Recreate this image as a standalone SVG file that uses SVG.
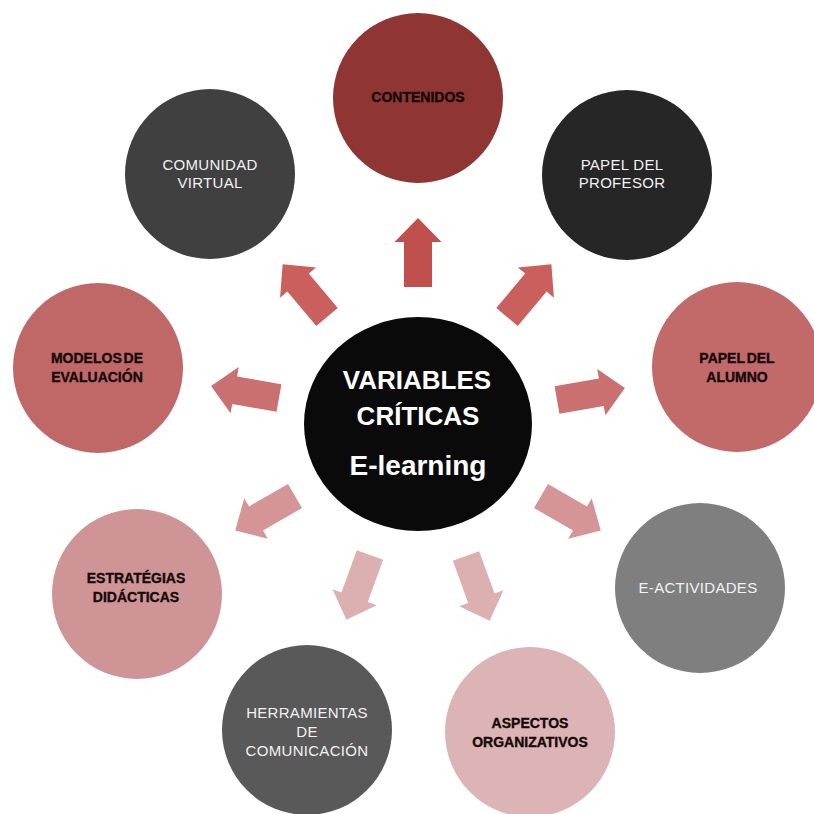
<svg xmlns="http://www.w3.org/2000/svg" width="814" height="814" viewBox="0 0 814 814">
  <defs>
    <!-- block arrow pointing along +x, tail centred on the origin -->
    <polygon id="blockArrow" points="0,-14 45,-14 45,-23.5 69,0 45,23.5 45,14 0,14"/>
  </defs>
  <style>
    .lbl-dark { font-family: "Liberation Sans", Arial, sans-serif; font-weight: bold; font-size: 14px; fill: #140808; stroke: #140808; stroke-width: 0.35; text-anchor: middle; word-spacing: -2px; }
    .lbl-light { font-family: "Liberation Sans", Arial, sans-serif; font-size: 15px; fill: #f2f2f2; text-anchor: middle; letter-spacing: 0.3px; }
    .hub { font-family: "Liberation Sans", Arial, sans-serif; font-weight: bold; fill: #ffffff; text-anchor: middle; }
  </style>
  <rect width="814" height="814" fill="#ffffff"/>

  <!-- connectors: block arrows radiating from the hub -->
  <g id="connectors">
    <use href="#blockArrow" transform="translate(418,287) rotate(-90)" fill="#C0504D"/>
    <use href="#blockArrow" transform="translate(507,317) rotate(-50)" fill="#C9605D"/>
    <use href="#blockArrow" transform="translate(557,400) rotate(-10)" fill="#CB7070"/>
    <use href="#blockArrow" transform="translate(541,496) rotate(30)" fill="#D59596"/>
    <use href="#blockArrow" transform="translate(466,556) rotate(70)" fill="#DCAFB1"/>
    <use href="#blockArrow" transform="translate(370,555) rotate(110)" fill="#DCAFB1"/>
    <use href="#blockArrow" transform="translate(295,496) rotate(150)" fill="#D59596"/>
    <use href="#blockArrow" transform="translate(279,398) rotate(190)" fill="#CB7070"/>
    <use href="#blockArrow" transform="translate(327,317) rotate(230)" fill="#C9605D"/>
  </g>

  <g id="hub">
    <ellipse cx="418" cy="424" rx="114" ry="107" fill="#0A0A0A"/>
    <text class="hub" x="417" y="389" font-size="26">VARIABLES</text>
    <text class="hub" x="418" y="425" font-size="26">CRÍTICAS</text>
    <text class="hub" x="418" y="475" font-size="28">E-learning</text>
  </g>

  <g id="contenidos">
    <circle cx="418" cy="98" r="85" fill="#8F3634"/>
    <text class="lbl-dark" x="418" y="102">CONTENIDOS</text>
  </g>

  <g id="papel-profesor">
    <circle cx="627" cy="175" r="85" fill="#262626"/>
    <text class="lbl-light" x="622" y="170">PAPEL DEL</text>
    <text class="lbl-light" x="622" y="188">PROFESOR</text>
  </g>

  <g id="papel-alumno">
    <circle cx="737" cy="367" r="85" fill="#C26A6A"/>
    <text class="lbl-dark" x="737" y="363">PAPEL DEL</text>
    <text class="lbl-dark" x="737" y="382">ALUMNO</text>
  </g>

  <g id="e-actividades">
    <circle cx="700" cy="588" r="85" fill="#7F7F7F"/>
    <text class="lbl-light" x="698" y="593">E-ACTIVIDADES</text>
  </g>

  <g id="aspectos">
    <circle cx="530" cy="732" r="85" fill="#DDB4B5"/>
    <text class="lbl-dark" x="530" y="728">ASPECTOS</text>
    <text class="lbl-dark" x="530" y="747">ORGANIZATIVOS</text>
  </g>

  <g id="herramientas">
    <circle cx="307" cy="730" r="85" fill="#595959"/>
    <text class="lbl-light" x="307" y="718">HERRAMIENTAS</text>
    <text class="lbl-light" x="307" y="737">DE</text>
    <text class="lbl-light" x="307" y="756">COMUNICACIÓN</text>
  </g>

  <g id="estrategias">
    <circle cx="137" cy="594" r="85" fill="#CF9495"/>
    <text class="lbl-dark" x="136" y="583">ESTRATÉGIAS</text>
    <text class="lbl-dark" x="136" y="602">DIDÁCTICAS</text>
  </g>

  <g id="modelos">
    <circle cx="98" cy="368" r="85" fill="#C06868"/>
    <text class="lbl-dark" x="97" y="363">MODELOS DE</text>
    <text class="lbl-dark" x="97" y="382">EVALUACIÓN</text>
  </g>

  <g id="comunidad">
    <circle cx="210" cy="174" r="85" fill="#404040"/>
    <text class="lbl-light" x="210" y="170">COMUNIDAD</text>
    <text class="lbl-light" x="210" y="188">VIRTUAL</text>
  </g>
</svg>
